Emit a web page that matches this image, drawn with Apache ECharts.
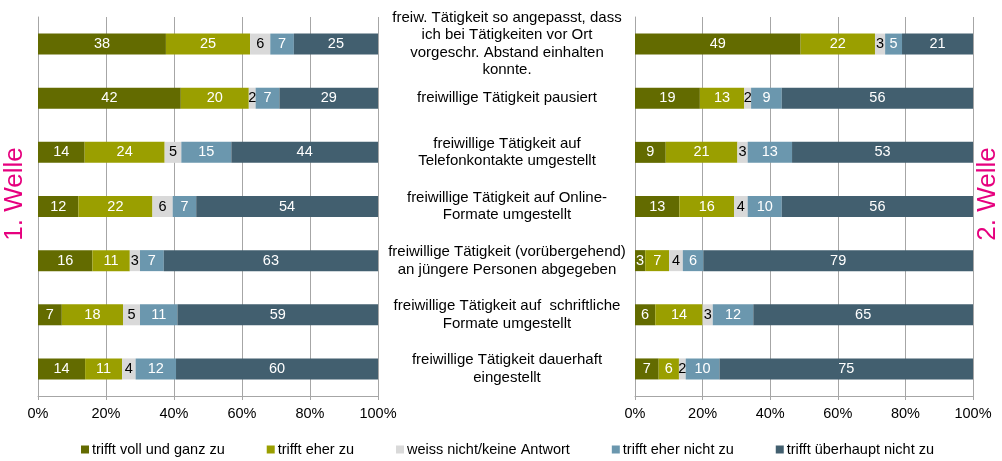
<!DOCTYPE html>
<html lang="de">
<head>
<meta charset="UTF-8" />
<title>Freiwillige Tätigkeit – 1. und 2. Welle</title>
<style>
  * { margin: 0; padding: 0; box-sizing: border-box; }
  #main { width: 1002px; height: 461px; background: #fff; }
</style>
</head>
<body>
<div id="main"></div>
<script src="https://cdn.jsdelivr.net/npm/echarts@6/dist/echarts.min.js"></script>
<script>
  const chart = echarts.init(document.getElementById("main"));

  // Kategorien (von oben nach unten)
  const categories = [
    "freiw. Tätigkeit so angepasst, dass\nich bei Tätigkeiten vor Ort\nvorgeschr. Abstand einhalten\nkonnte.",
    "freiwillige Tätigkeit pausiert",
    "freiwillige Tätigkeit auf\nTelefonkontakte umgestellt",
    "freiwillige Tätigkeit auf Online-\nFormate umgestellt",
    "freiwillige Tätigkeit (vorübergehend)\nan jüngere Personen abgegeben",
    "freiwillige Tätigkeit auf  schriftliche\nFormate umgestellt",
    "freiwillige Tätigkeit dauerhaft\neingestellt"
  ];
  const answers = [
    "trifft voll und ganz zu",
    "trifft eher zu",
    "weiss nicht/keine Antwort",
    "trifft eher nicht zu",
    "trifft überhaupt nicht zu"
  ];
  const colors = ["#636b00", "#9a9f00", "#d9d9d9", "#6b97ae", "#425f6f"];
  const tickLabels = ["0%", "20%", "40%", "60%", "80%", "100%"];

  // 1. Welle
  const w1Voll = [38, 42, 14, 12, 16, 7, 14];
  const w1Eher = [25, 20, 24, 22, 11, 18, 11];
  const w1Weiss = [6, 2, 5, 6, 3, 5, 4];
  const w1EherNicht = [7, 7, 15, 7, 7, 11, 12];
  const w1Nicht = [25, 29, 44, 54, 63, 59, 60];

  // 2. Welle
  const w2Voll = [49, 19, 9, 13, 3, 6, 7];
  const w2Eher = [22, 13, 21, 16, 7, 14, 6];
  const w2Weiss = [3, 2, 3, 4, 4, 3, 2];
  const w2EherNicht = [5, 9, 13, 10, 6, 12, 10];
  const w2Nicht = [21, 56, 53, 56, 79, 65, 75];

  const wave1 = [w1Voll, w1Eher, w1Weiss, w1EherNicht, w1Nicht];
  const wave2 = [w2Voll, w2Eher, w2Weiss, w2EherNicht, w2Nicht];

  const font = "Liberation Sans, Arial, sans-serif";
  const gridColor = "#a6a6a6";

  // gerundete Werte auf 100 % normieren, Beschriftung zeigt den Originalwert
  function makeSeries(wave, idx) {
    const sums = categories.map((_, r) => wave.reduce((s, arr) => s + arr[r], 0));
    return wave.map((arr, k) => ({
      name: answers[k],
      type: "bar",
      stack: "w" + idx,
      xAxisIndex: idx,
      yAxisIndex: idx,
      barWidth: 21,
      itemStyle: { color: colors[k] },
      label: {
        show: true,
        position: "inside",
        color: k === 2 ? "#000" : "#fff",
        fontFamily: font,
        fontSize: 14.5,
        formatter: (p) => arr[p.dataIndex]
      },
      emphasis: { disabled: true },
      data: arr.map((v, r) => (v / sums[r]) * 100)
    }));
  }

  function xAxis(idx) {
    return {
      type: "value",
      gridIndex: idx,
      min: 0,
      max: 100,
      interval: 20,
      axisLine: { show: true, lineStyle: { color: gridColor } },
      axisTick: { show: true, length: 4, lineStyle: { color: gridColor } },
      splitLine: { show: true, lineStyle: { color: gridColor } },
      axisLabel: {
        color: "#000",
        fontFamily: font,
        fontSize: 14.5,
        margin: 10,
        formatter: (v) => tickLabels[v / 20]
      }
    };
  }

  const option = {
    animation: false,
    grid: [
      { left: 38, right: 624, top: 17, bottom: 65 },
      { left: 635, right: 29, top: 17, bottom: 65 }
    ],
    legend: {
      data: answers,
      bottom: -1,
      left: 76,
      itemWidth: 8,
      itemHeight: 8,
      itemGap: 42,
      icon: "rect",
      textStyle: { color: "#000", fontFamily: font, fontSize: 14.5, padding: [0, 0, 0, -2] }
    },
    xAxis: [xAxis(0), xAxis(1)],
    yAxis: [
      {
        type: "category",
        gridIndex: 0,
        inverse: true,
        data: categories,
        axisLine: { show: true, lineStyle: { color: gridColor } },
        axisTick: { show: false },
        axisLabel: { show: false }
      },
      {
        type: "category",
        gridIndex: 1,
        inverse: true,
        data: categories,
        axisLine: { show: true, lineStyle: { color: gridColor } },
        axisTick: { show: false },
        axisLabel: {
          show: true,
          align: "center",
          margin: 128,
          color: "#000",
          fontFamily: font,
          fontSize: 15,
          lineHeight: 17.5
        }
      }
    ],
    graphic: [
      {
        type: "text",
        x: 15,
        y: 194,
        rotation: Math.PI / 2,
        style: {
          text: "1. Welle",
          fill: "#e6007e",
          font: "26px Liberation Sans, Arial, sans-serif",
          align: "center",
          verticalAlign: "middle"
        }
      },
      {
        type: "text",
        x: 988,
        y: 194,
        rotation: Math.PI / 2,
        style: {
          text: "2. Welle",
          fill: "#e6007e",
          font: "26px Liberation Sans, Arial, sans-serif",
          align: "center",
          verticalAlign: "middle"
        }
      }
    ],
    series: [...makeSeries(wave1, 0), ...makeSeries(wave2, 1)]
  };

  chart.setOption(option);
</script>
</body>
</html>
